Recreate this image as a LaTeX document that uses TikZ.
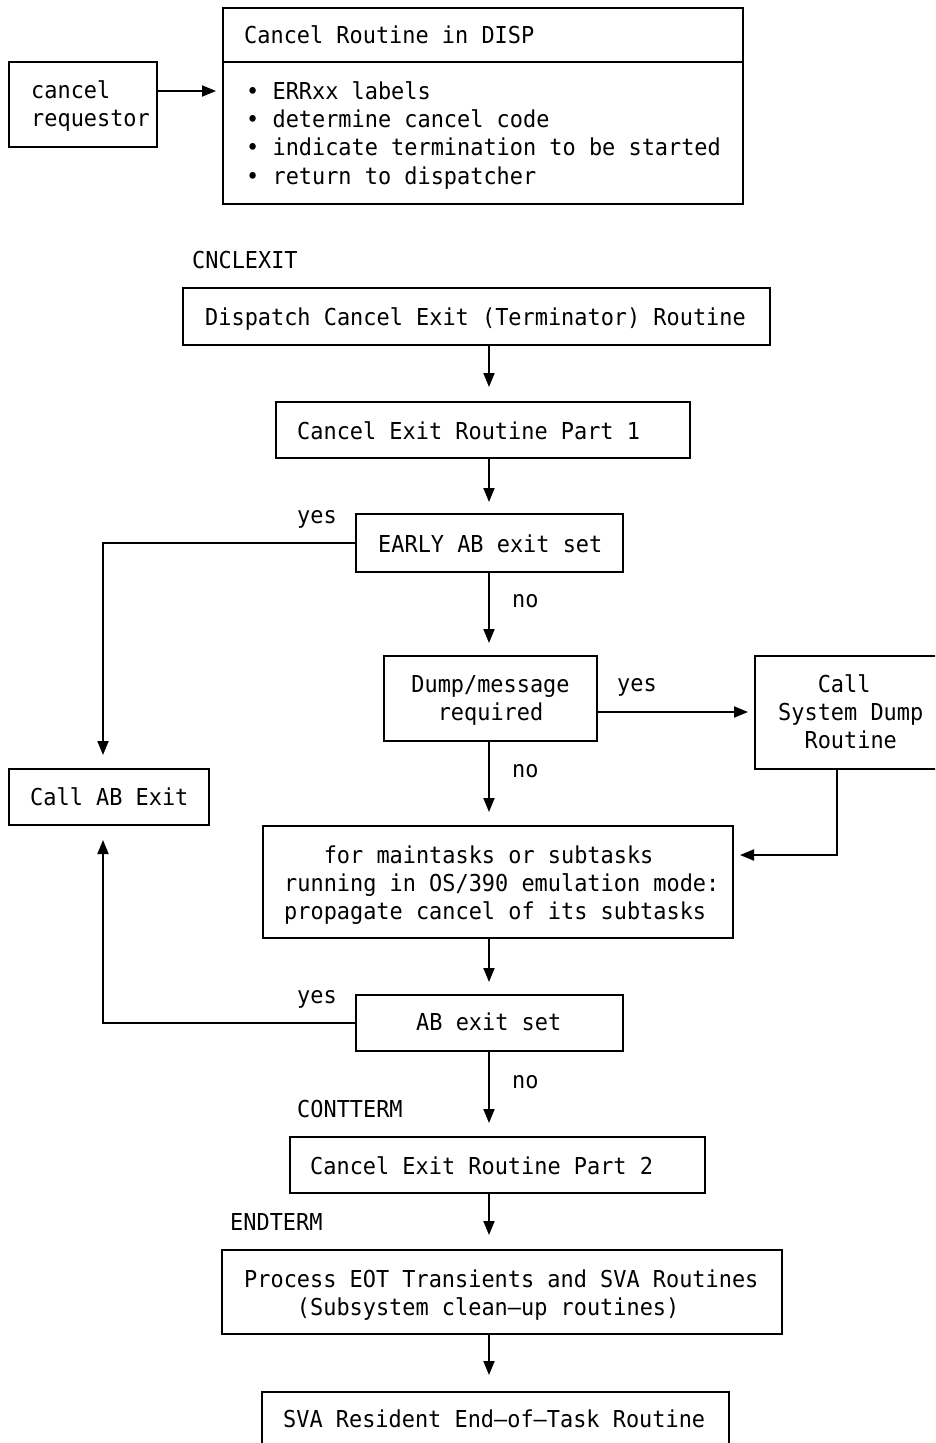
\documentclass[tikz,border=0pt]{standalone}
\usepackage{fontspec}
\newfontfamily\diagfont[FakeStretch=0.94]{DejaVu Sans Mono}
\usetikzlibrary{arrows.meta,calc}
\begin{document}
\begin{tikzpicture}[x=1pt,y=-1pt,
  box/.style={draw, line width=1.9pt, rectangle, inner sep=0pt, outer sep=0pt, anchor=north west},
  txt/.style={font=\diagfont\fontsize{23.3}{28.4}\selectfont, inner sep=0pt, anchor=base west, align=left},
  ctxt/.style={txt, anchor=base, align=center},
  arr/.style={line width=1.9pt, -{Triangle[length=14pt,width=11pt]}},
  ln/.style={line width=1.9pt}]
\useasboundingbox (0,0) rectangle (935,1443);
\clip (0,0) rectangle (935,1443);
% boxes
\node[box, minimum width=148pt, minimum height=85pt] (req) at (9,62) {};
\node[box, minimum width=520pt, minimum height=196pt] (disp) at (223,8) {};
\node[box, minimum width=587pt, minimum height=57pt] (dispatch) at (183,288) {};
\node[box, minimum width=414pt, minimum height=56pt] (part1) at (276,402) {};
\node[box, minimum width=267pt, minimum height=58pt] (early) at (356,514) {};
\node[box, minimum width=213pt, minimum height=85pt] (dump) at (384,656) {};
\node[box, minimum width=200pt, minimum height=113pt] (call) at (755,656) {};
\node[box, minimum width=200pt, minimum height=56pt] (callab) at (9,769) {};
\node[box, minimum width=470pt, minimum height=112pt] (maint) at (263,826) {};
\node[box, minimum width=267pt, minimum height=56pt] (abset) at (356,995) {};
\node[box, minimum width=415pt, minimum height=56pt] (part2) at (290,1137) {};
\node[box, minimum width=560pt, minimum height=84pt] (proc) at (222,1250) {};
\node[box, minimum width=467pt, minimum height=80pt] (sva) at (262,1392) {};
\draw[ln] (disp.west |- 0,62) -- (disp.east |- 0,62);
% texts (base anchor of a multi-line node = baseline of its last line)
\node[txt] (treq) at (31,126.4) {cancel\\requestor};
\node[txt] (tdisp) at (244,43) {Cancel Routine in DISP};
\node[txt] (tbul) at (246,184.2) {• ERRxx labels\\• determine cancel code\\• indicate termination to be started\\• return to dispatcher};
\node[txt] (lcncl) at (192,268) {CNCLEXIT};
\node[txt] (tdispatch) at (205,325) {Dispatch Cancel Exit (Terminator) Routine};
\node[txt] (tpart1) at (297,439) {Cancel Exit Routine Part 1};
\node[txt] (yes1) at (297,523) {yes};
\node[txt] (tearly) at (378,552) {EARLY AB exit set};
\node[txt] (no1) at (512,607) {no};
\node[ctxt] (tdump) at (490.5,720.4) {Dump/message\\required};
\node[txt] (yes2) at (617,691) {yes};
\node[txt] (tcall) at (778,748.8) {\hphantom{Sys}Call\\System Dump\\\hphantom{Sy}Routine};
\node[txt] (no2) at (512,777) {no};
\node[txt] (tcallab) at (30,805) {Call AB Exit};
\node[txt] (tmaint) at (284,919.8) {\hphantom{xxx}for maintasks or subtasks\\running in OS/390 emulation mode:\\propagate cancel of its subtasks};
\node[txt] (yes3) at (297,1003) {yes};
\node[txt] (tabset) at (416,1030) {AB exit set};
\node[txt] (no3) at (512,1088) {no};
\node[txt] (lcont) at (297,1117) {CONTTERM};
\node[txt] (tpart2) at (310,1174) {Cancel Exit Routine Part 2};
\node[txt] (lend) at (230,1230) {ENDTERM};
\node[txt] (tproc) at (244,1315.4) {Process EOT Transients and SVA Routines\\\hphantom{xxxx}(Subsystem clean—up routines)};
\node[txt] (tsva) at (283,1427) {SVA Resident End—of—Task Routine};
% helper coordinates
\coordinate (mx) at (489,0);
\coordinate (lx) at (103,0);
\coordinate (cx) at (837,0);
\coordinate (ry) at (0,91);
\coordinate (dy) at (0,712);
\coordinate (cy) at (0,855);
% connectors
\draw[arr, shorten >=7pt] (req.east |- ry) -- (disp.west |- ry);
\draw[arr, shorten >=15pt] (dispatch.south -| mx) -- (part1.north -| mx);
\draw[arr, shorten >=12pt] (part1.south -| mx) -- (early.north -| mx);
\draw[arr, shorten >=13pt] (early.south -| mx) -- (dump.north -| mx);
\draw[arr, shorten >=14pt] (early.west) -| (callab.north -| lx);
\draw[arr, shorten >=7pt] (dump.east |- dy) -- (call.west |- dy);
\draw[arr, shorten >=14pt] (dump.south -| mx) -- (maint.north -| mx);
\draw[arr, shorten >=7pt] (call.south -| cx) |- (maint.east |- cy);
\draw[arr, shorten >=13pt] (maint.south -| mx) -- (abset.north -| mx);
\draw[arr, shorten >=15pt] (abset.west) -| (callab.south -| lx);
\draw[arr, shorten >=14pt] (abset.south -| mx) -- (part2.north -| mx);
\draw[arr, shorten >=15pt] (part2.south -| mx) -- (proc.north -| mx);
\draw[arr, shorten >=17pt] (proc.south -| mx) -- (sva.north -| mx);
\end{tikzpicture}
\end{document}
